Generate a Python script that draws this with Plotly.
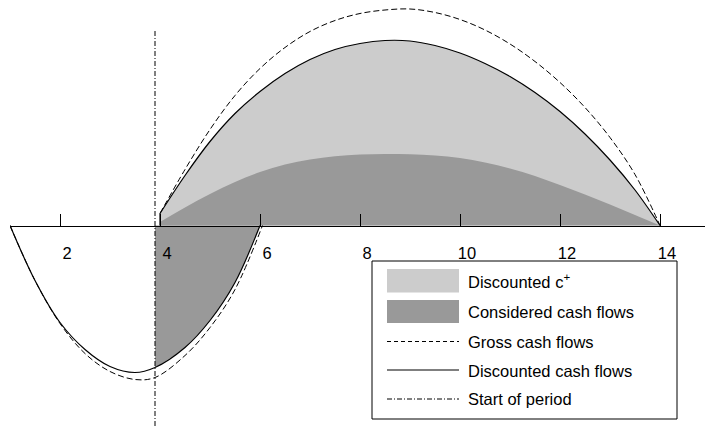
import plotly.graph_objects as go

# ---------------- data ----------------
tick_vals = [2, 4, 6, 8, 10, 12, 14]
start_of_period = 3.9

disc_neg_x = [1.0, 1.5, 2.0, 2.5, 3.0, 3.5, 3.9, 4.5, 5.0, 5.5, 6.0]
disc_neg_y = [0, -55, -97, -124, -141, -147, -142, -122, -95, -57, 0]

gross_neg_x = [1.0, 1.5, 2.0, 2.5, 3.0, 3.5, 3.9, 4.5, 5.0, 5.5, 6.05]
gross_neg_y = [0, -55, -98, -128, -146, -154, -152, -130, -102, -64, 0]

pos_x = [4.0, 4.5, 5.0, 5.5, 6.0, 6.5, 7.0, 7.5, 8.0, 8.5, 9.0,
         9.5, 10.0, 10.5, 11.0, 11.5, 12.0, 12.5, 13.0, 13.5, 14.0]
disc_pos_y = [12, 50, 84, 112, 134, 152, 166, 176, 182, 185, 184.5,
              180, 172.5, 162, 149, 133, 114, 91.5, 65.5, 35.5, 0]
gross_pos_y = [12, 56, 96, 130, 157, 178, 194, 205, 212, 215.5, 216.5,
               213, 206, 195.5, 181.5, 164, 143, 118, 88, 51, 0]
considered_pos_y = [3.5, 18, 31.5, 43.5, 53.5, 61, 66, 69.3, 71, 71.6, 71.2,
                    70, 67.5, 63, 57, 49.5, 40.5, 31, 21, 10.5, 0]

legend_labels = ["Discounted c<sup>+</sup>", "Considered cash flows",
                 "Gross cash flows", "Discounted cash flows", "Start of period"]

# ---------------- styling ----------------
W, H = 705, 426
Y_RANGE = [-200.5, 225.5]
X_RANGE = [1.0, 14.9]
LIGHT = "#cccccc"
DARK = "#999999"
FONT = "Liberation Sans, Arial, sans-serif"
FS = 16.5
GROSS_DASH = "6px,3px"
DASHDOT = "5px,2px,1px,2px"
PERIOD_TOP = 195.5

fig = go.Figure()

# fills
fig.add_trace(go.Scatter(x=pos_x, y=disc_pos_y, mode="lines", line=dict(width=0, shape="spline"),
                         fill="tozeroy", fillcolor=LIGHT, name="Discounted c+", hoverinfo="skip"))
fig.add_trace(go.Scatter(x=pos_x, y=considered_pos_y, mode="lines", line=dict(width=0, shape="spline"),
                         fill="tozeroy", fillcolor=DARK, name="Considered cash flows", hoverinfo="skip"))
cons_neg = [(x, y) for x, y in zip(disc_neg_x, disc_neg_y) if x >= start_of_period]
fig.add_trace(go.Scatter(x=[p[0] for p in cons_neg], y=[p[1] for p in cons_neg], mode="lines",
                         line=dict(width=0, shape="spline"),
                         fill="tozeroy", fillcolor=DARK, name="Considered cash flows (neg)", hoverinfo="skip"))

# gross cash flows (dashed)
fig.add_trace(go.Scatter(x=gross_neg_x, y=gross_neg_y, mode="lines",
                         line=dict(color="black", width=1, dash=GROSS_DASH, shape="spline"),
                         name="Gross cash flows"))
fig.add_trace(go.Scatter(x=pos_x, y=gross_pos_y, mode="lines",
                         line=dict(color="black", width=1, dash=GROSS_DASH, shape="spline"),
                         name="Gross cash flows"))

# discounted cash flows (solid)
fig.add_trace(go.Scatter(x=disc_neg_x, y=disc_neg_y, mode="lines",
                         line=dict(color="black", width=1.2, shape="spline"),
                         name="Discounted cash flows"))
fig.add_trace(go.Scatter(x=pos_x, y=disc_pos_y, mode="lines",
                         line=dict(color="black", width=1.2, shape="spline"),
                         name="Discounted cash flows"))
fig.add_trace(go.Scatter(x=[pos_x[0], pos_x[0]], y=[0, disc_pos_y[0]], mode="lines",
                         line=dict(color="black", width=1.2), name="Discounted cash flows"))

# start of period
fig.add_trace(go.Scatter(x=[start_of_period, start_of_period], y=[Y_RANGE[0], PERIOD_TOP], mode="lines",
                         line=dict(color="black", width=1, dash=DASHDOT), name="Start of period"))

# ---------------- manual legend ----------------
def px(x):
    return x / W

def py(y):
    return 1 - y / H

shapes = []
annotations = []
shapes.append(dict(type="rect", xref="paper", yref="paper", x0=px(372), x1=px(677), y0=py(261), y1=py(419),
                   line=dict(color="black", width=1), fillcolor="white", layer="above"))
sw_x0, sw_x1 = 387, 459
shapes.append(dict(type="rect", xref="paper", yref="paper", x0=px(sw_x0), x1=px(sw_x1), y0=py(269), y1=py(292.5),
                   line=dict(width=0), fillcolor=LIGHT, layer="above"))
shapes.append(dict(type="rect", xref="paper", yref="paper", x0=px(sw_x0), x1=px(sw_x1), y0=py(300), y1=py(323),
                   line=dict(width=0), fillcolor=DARK, layer="above"))
for yy, dash, wd in [(341.5, "4px,3px", 1), (370, "solid", 1.2), (399, DASHDOT, 1)]:
    shapes.append(dict(type="line", xref="paper", yref="paper", x0=px(sw_x0), x1=px(sw_x1), y0=py(yy), y1=py(yy),
                       line=dict(color="black", width=wd, dash=dash), layer="above"))
for label, yy in zip(legend_labels, [281, 312, 342, 371, 399]):
    annotations.append(dict(text=label, xref="paper", yref="paper", x=px(466), y=py(yy),
                            xanchor="left", yanchor="middle", showarrow=False,
                            font=dict(family=FONT, size=FS, color="black")))

fig.update_layout(
    width=W, height=H, margin=dict(l=0, r=0, t=0, b=0),
    paper_bgcolor="white", plot_bgcolor="white", showlegend=False,
    shapes=shapes, annotations=annotations,
    xaxis=dict(domain=[10 / W, 1], range=X_RANGE, anchor="free", position=-Y_RANGE[0] / (Y_RANGE[1] - Y_RANGE[0]),
               showline=True, linecolor="black", linewidth=1, ticks="inside", ticklen=12, tickwidth=1,
               tickcolor="black", tickvals=tick_vals, showgrid=False, zeroline=False, layer="above traces",
               tickfont=dict(family=FONT, size=FS, color="black"), ticklabelstandoff=13, ticklabelshift=7),
    yaxis=dict(range=Y_RANGE, visible=False, showgrid=False, zeroline=False, domain=[0, 1]),
)

fig.write_html("out.html")
